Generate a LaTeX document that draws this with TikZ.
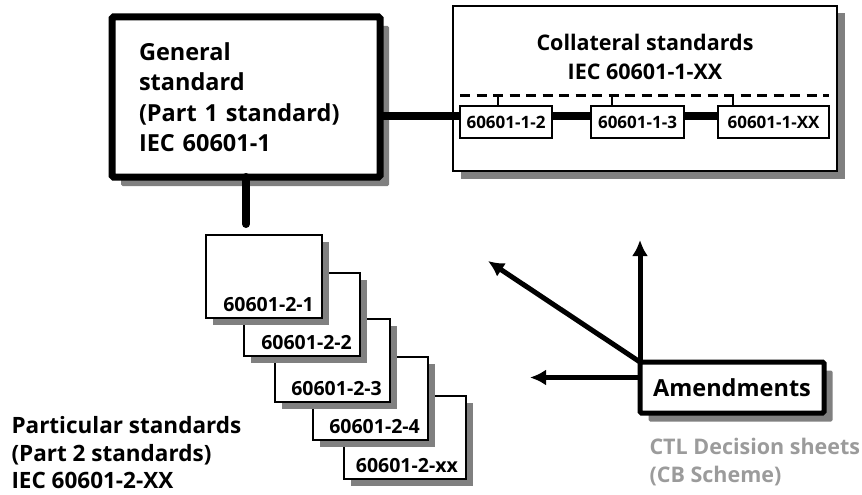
\documentclass[tikz,border=0pt]{standalone}
\usepackage{fontspec}
\setmainfont{Open Sans}
\usetikzlibrary{arrows.meta,shadows}

\definecolor{shadowgray}{RGB}{128,128,128}
\definecolor{notegray}{RGB}{155,155,155}

\tikzset{
  castshadow/.style={drop shadow={shadow xshift=#1, shadow yshift=-#1, fill=shadowgray, opacity=1}},
  bigbox/.style={draw, fill=white, line width=#1, rounded corners=1.5pt, outer sep=0pt},
  thinbox/.style={draw, fill=white, line width=1.2pt, inner sep=0pt, outer sep=0pt},
  bar/.style={line width=8pt},
  arrowline/.style={line width=5pt, ->}
}

\begin{document}
\begin{tikzpicture}[x=1pt, y=-1pt, font=\bfseries, >={Latex[length=16pt,width=16pt]}]
\useasboundingbox (0,0) rectangle (862,495);

\def \labelfont {\bfseries\fontsize{17}{20}\selectfont}
\def \partfont {\bfseries\fontsize{19.5}{22}\selectfont}

% general standard
\node[bigbox=7pt, castshadow=9pt, minimum width=268pt, minimum height=160pt,
      text width=214pt, inner xsep=27pt, align=left,
      font=\bfseries\fontsize{23.5}{30.5}\selectfont] (general) at (246,97)
      {General\\standard\\(Part 1 standard)\\IEC 60601-1};

% collateral standards
\node[thinbox, castshadow=7.5pt, minimum width=384pt, minimum height=165pt] (coll) at (645,88.5) {};
\node[align=center, font=\bfseries\fontsize{21.5}{29}\selectfont] (colltitle) at (645,57)
      {Collateral standards\\IEC 60601-1-XX};

\foreach \name/\x/\w/\txt in {c1/506/92/60601-1-2, c2/637.5/93/60601-1-3, c3/773.5/111/60601-1-XX}
{
  \node[thinbox, minimum width=\w pt, minimum height=32pt, font=\labelfont] (\name) at (\x,122) {\txt};
}

\coordinate (cline) at ([yshift=6pt]c1.west);
\draw[bar] (general.east |- cline) -- (cline);
\draw[bar] ([yshift=6pt]c1.east) -- ([yshift=6pt]c2.west);
\draw[bar] ([yshift=6pt]c2.east) -- ([yshift=6pt]c3.west);

\draw[line width=3pt, dash pattern=on 10pt off 6.5pt]
  ([yshift=11pt]c1.north west) -- ([yshift=11pt]c3.north east);
\foreach \name/\dx in {c1/38, c2/21, c3/15}
  \draw[line width=1.5pt] ([xshift=\dx pt]\name.north west) -- ([xshift=\dx pt, yshift=11pt]\name.north west);

% particular standards, the first one lies on top
\foreach \i/\l/\t/\w/\txt in {5/344/396/122/60601-2-xx, 4/313/357/115/60601-2-4,
    3/275/319/115/60601-2-3, 2/244/273/116/60601-2-2, 1/206/235/116/60601-2-1}
{
  \node[thinbox, castshadow=7pt, anchor=north west, minimum width=\w pt, minimum height=83pt] (p\i) at (\l,\t) {};
  \node[anchor=base east, font=\partfont, inner sep=0pt] (p\i text) at ([xshift=-8pt, yshift=7pt]p\i.south east) {\txt};
}

\draw[bar, line cap=round, shorten >=11pt] (general.south) -- (general.south |- p1.north);

\node[anchor=north west, align=left, font=\bfseries\fontsize{22.5}{27.5}\selectfont] (parttitle) at (8,413)
      {Particular standards\\(Part 2 standards)\\IEC 60601-2-XX};

% amendments
\node[bigbox=5pt, castshadow=8.5pt, minimum width=184pt, minimum height=51pt,
      font=\bfseries\fontsize{23.5}{28}\selectfont] (amend) at (732,387.5) {Amendments};
\node[anchor=north west, align=left, text=notegray,
      font=\bfseries\fontsize{21.5}{28}\selectfont] (ctl) at (646,435)
      {CTL Decision sheets\\(CB Scheme)};

\coordinate (upend) at (640,240);
\coordinate (diagend) at (488,261);
\coordinate (leftend) at (530,377.5);
\draw[arrowline] (amend.north west) -- (upend);
\draw[arrowline] (amend.north west) -- (diagend);
\draw[arrowline] ([yshift=10pt]amend.west) -- (leftend);

\end{tikzpicture}
\end{document}
